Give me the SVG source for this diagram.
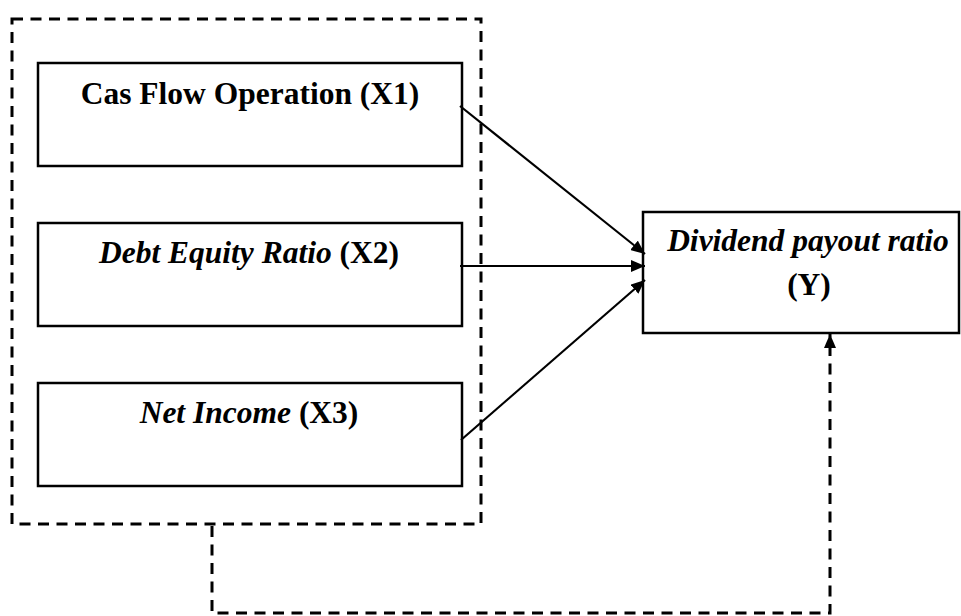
<svg xmlns="http://www.w3.org/2000/svg" width="961" height="616" viewBox="0 0 961 616">
<defs>
<marker id="arr" viewBox="0 0 14 12" refX="14" refY="6" markerWidth="14" markerHeight="12" markerUnits="userSpaceOnUse" orient="auto">
<path d="M0,0 L14,6 L0,12 Z" fill="#000"/>
</marker>
</defs>
<style>
.box{fill:#fff;stroke:#000;stroke-width:2.5}
.dash{fill:none;stroke:#000;stroke-width:3;stroke-dasharray:11,7.5}
.ln{fill:none;stroke:#000;stroke-width:2.2}
text{font-family:"Liberation Serif","Times New Roman",serif;font-size:31.5px;font-weight:bold;fill:#000}
.it{font-style:italic}
</style>
<rect width="961" height="616" fill="#fff"/>
<g id="group">
<rect class="dash" x="12" y="19" width="469" height="505"/>
</g>
<g id="x1">
<rect class="box" x="38" y="63" width="424" height="103"/>
<text x="250" y="104" text-anchor="middle">Cas Flow Operation (X1)</text>
</g>
<g id="x2">
<rect class="box" x="38" y="223" width="424" height="103"/>
<text x="249" y="263" text-anchor="middle"><tspan class="it">Debt Equity Ratio</tspan> (X2)</text>
</g>
<g id="x3">
<rect class="box" x="38" y="383" width="424" height="103"/>
<text x="249" y="423" text-anchor="middle"><tspan class="it">Net Income</tspan> (X3)</text>
</g>
<g id="y">
<rect class="box" x="643" y="212" width="316" height="121"/>
<text class="it" x="808" y="251" text-anchor="middle">Dividend payout ratio</text>
<text x="809" y="295" text-anchor="middle">(Y)</text>
</g>
<g id="connectors">
<line class="ln" x1="460" y1="106" x2="645" y2="254" marker-end="url(#arr)"/>
<line class="ln" x1="460" y1="266" x2="645" y2="266" marker-end="url(#arr)"/>
<line class="ln" x1="461" y1="440" x2="645" y2="280" marker-end="url(#arr)"/>
<polyline class="dash" points="212,526 212,613 830,613 830,334" marker-end="url(#arr)"/>
</g>
</svg>
